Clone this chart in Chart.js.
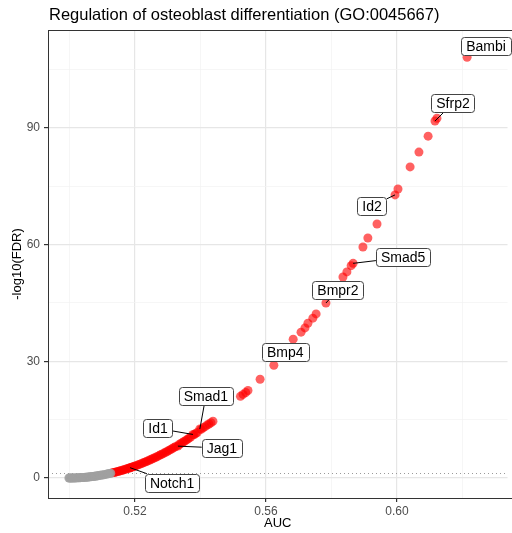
<!DOCTYPE html>
<html>
<head>
<meta charset="utf-8">
<script src="https://cdn.jsdelivr.net/npm/chart.js@4.4.1/dist/chart.umd.min.js"></script>
<style>
  html, body { margin: 0; padding: 0; background: #fff; overflow: hidden; }
  #wrap { width: 512px; height: 533px; }
</style>
</head>
<body>
<div id="wrap"><canvas id="chart" width="512" height="533"></canvas></div>
<script>
// genes not passing the FDR cutoff (grey)
const greyAuc = [0.4998, 0.5000, 0.5003, 0.5006, 0.5009, 0.5012, 0.5015, 0.5018, 0.5021, 0.5024,
  0.5027, 0.5030, 0.5033, 0.5036, 0.5039, 0.5042, 0.5045, 0.5048, 0.5051, 0.5054,
  0.5057, 0.5060, 0.5063, 0.5066, 0.5069, 0.5072, 0.5075, 0.5078, 0.5081, 0.5084,
  0.5087, 0.5090, 0.5094, 0.5098, 0.5102, 0.5106, 0.5110, 0.5114, 0.5118, 0.5122, 0.5126];
const greyFdr = [0.00, 0.00, 0.00, 0.01, 0.01, 0.01, 0.02, 0.02, 0.03, 0.04,
  0.06, 0.07, 0.08, 0.10, 0.12, 0.14, 0.16, 0.18, 0.20, 0.22,
  0.25, 0.28, 0.31, 0.34, 0.37, 0.40, 0.43, 0.47, 0.50, 0.54,
  0.58, 0.62, 0.68, 0.74, 0.80, 0.86, 0.93, 1.00, 1.07, 1.15, 1.22];

// significant genes (red)
const redAuc = [0.5131, 0.5135, 0.5139, 0.5143, 0.5147, 0.5151, 0.5155, 0.5159, 0.5163, 0.5167,
  0.5171, 0.5175, 0.5179, 0.5183, 0.5185, 0.5188, 0.5192, 0.5196, 0.5200, 0.5205,
  0.5210, 0.5215, 0.5220, 0.5225, 0.5230, 0.5235, 0.5240, 0.5245, 0.5250, 0.5255,
  0.5260, 0.5265, 0.5270, 0.5275, 0.5280, 0.5285, 0.5290, 0.5295, 0.5300, 0.5305,
  0.5310, 0.5315, 0.5320, 0.5325, 0.5331, 0.5335, 0.5340, 0.5345, 0.5350, 0.5355,
  0.5360, 0.5365, 0.5370, 0.5377, 0.5380, 0.5385, 0.5390, 0.5398, 0.5402, 0.5408,
  0.5414, 0.5420, 0.5426, 0.5432, 0.5438,
  0.5522, 0.5530, 0.5538, 0.5545, 0.5582, 0.5624, 0.5683, 0.5707, 0.5719, 0.5728,
  0.5743, 0.5753, 0.5783, 0.5835, 0.5847, 0.5860, 0.5866, 0.5896, 0.5911, 0.5939,
  0.5994, 0.6003, 0.6040, 0.6067, 0.6095, 0.6116, 0.6122, 0.6214];
const redFdr = [1.32, 1.40, 1.48, 1.57, 1.66, 1.75, 1.85, 1.94, 2.04, 2.14,
  2.25, 2.36, 2.47, 2.58, 2.65, 2.72, 2.83, 2.96, 3.08, 3.24,
  3.39, 3.56, 3.72, 3.89, 4.07, 4.25, 4.43, 4.62, 4.81, 5.00,
  5.20, 5.41, 5.62, 5.83, 6.03, 6.25, 6.47, 6.70, 6.92, 7.16,
  7.40, 7.64, 7.88, 8.13, 8.20, 8.60, 8.86, 9.13, 9.40, 9.66,
  9.95, 10.24, 10.52, 11.2, 11.1, 11.4, 11.7, 12.6, 12.5, 12.9,
  13.2, 13.6, 13.9, 14.2, 14.6,
  21.0, 21.5, 22.0, 22.5, 25.4, 29.0, 35.7, 37.5, 38.6, 39.8,
  41.1, 42.2, 45.0, 51.7, 53.0, 54.6, 55.2, 59.4, 61.7, 65.3,
  72.8, 74.3, 80.0, 83.8, 87.9, 91.8, 92.5, 108.2];

// labelled genes
const labelGenes = ["Bambi", "Sfrp2", "Id2", "Smad5", "Bmpr2", "Bmp4", "Smad1", "Id1", "Jag1", "Notch1"];
const labelAuc = [0.6214, 0.6116, 0.5994, 0.5866, 0.5783, 0.5683, 0.5398, 0.5377, 0.5331, 0.5185];
const labelFdr = [108.2, 91.8, 72.8, 55.2, 45.0, 35.7, 12.6, 11.2, 8.2, 2.65];

const fdrCutoff = 1.3;

const xTicks = [0.50, 0.52, 0.54, 0.56, 0.58, 0.60, 0.62];
const xTickLabels = ["", "0.52", "", "0.56", "", "0.60", ""];
const yTicks = [0, 15, 30, 45, 60, 75, 90, 105];
const yTickLabels = ["0", "", "30", "", "60", "", "90", ""];

// where each label box sits relative to its point (px)
const labelOffsets = {
  Bambi: [19, -11], Sfrp2: [18, -18], Id2: [-23, 11], Smad5: [50, -6], Bmpr2: [12, -13],
  Bmp4: [-8, 13], Smad1: [6, -33], Id1: [-35, -6], Jag1: [44, 2], Notch1: [42, 15]
};

const FONT = '"Liberation Sans", Arial, Helvetica, sans-serif';

function toPoints(xs, ys) {
  return xs.map((v, i) => ({ x: v, y: ys[i] }));
}

const decorPlugin = {
  id: "decor",
  beforeDatasetsDraw(chart) {
    const { ctx, chartArea: a, scales: { y } } = chart;
    const yy = Math.round(y.getPixelForValue(fdrCutoff)) + 0.5;
    ctx.save();
    ctx.strokeStyle = "#9a9a9a";
    ctx.lineWidth = 1;
    ctx.setLineDash([1, 3]);
    ctx.beginPath();
    ctx.moveTo(a.left, yy);
    ctx.lineTo(a.right, yy);
    ctx.stroke();
    ctx.restore();
  },
  afterDatasetsDraw(chart) {
    const { ctx, chartArea: a, scales: { x, y } } = chart;
    ctx.save();
    // panel border
    ctx.strokeStyle = "#333333";
    ctx.lineWidth = 1;
    ctx.strokeRect(a.left + 0.5, a.top + 0.5, 520, a.bottom - a.top);

    // gene labels
    ctx.font = "14px " + FONT;
    ctx.textAlign = "center";
    ctx.textBaseline = "middle";
    labelGenes.forEach((g, i) => {
      const px = x.getPixelForValue(labelAuc[i]);
      const py = y.getPixelForValue(labelFdr[i]);
      const off = labelOffsets[g];
      const cx = px + off[0], cy = py + off[1];
      const w = ctx.measureText(g).width + 10, h = 18;
      const dx = px - cx, dy = py - cy;
      const s = Math.min(dx ? (w / 2) / Math.abs(dx) : Infinity, dy ? (h / 2) / Math.abs(dy) : Infinity);
      if (s < 1) {
        const ex = cx + dx * s, ey = cy + dy * s;
        if (Math.hypot(px - ex, py - ey) > 5) {
          ctx.strokeStyle = "#000";
          ctx.lineWidth = 1;
          ctx.beginPath();
          ctx.moveTo(px, py);
          ctx.lineTo(ex, ey);
          ctx.stroke();
        }
      }
      const bx = Math.round(cx - w / 2) + 0.5, by = Math.round(cy - h / 2) + 0.5;
      ctx.beginPath();
      ctx.roundRect(bx, by, Math.round(w), h, 3);
      ctx.fillStyle = "#fff";
      ctx.fill();
      ctx.strokeStyle = "#444";
      ctx.stroke();
      ctx.fillStyle = "#000";
      ctx.fillText(g, cx, cy + 1);
    });

    // titles
    ctx.textAlign = "left";
    ctx.textBaseline = "alphabetic";
    ctx.font = "16.5px " + FONT;
    ctx.fillText("Regulation of osteoblast differentiation (GO:0045667)", 49, 20);
    ctx.font = "13px " + FONT;
    ctx.textAlign = "center";
    ctx.fillText("AUC", (a.left + a.right) / 2, 527);
    ctx.translate(21, (a.top + a.bottom) / 2);
    ctx.rotate(-Math.PI / 2);
    ctx.fillText("-log10(FDR)", 0, 0);
    ctx.restore();
  }
};

function gridOpts(labels) {
  return {
    color: c => labels[c.index] ? "#e6e6e6" : "#f2f2f2",
    lineWidth: c => labels[c.index] ? 1.2 : 0.7,
    tickColor: c => labels[c.index] ? "#333333" : "rgba(0,0,0,0)",
    tickLength: 4,
    drawTicks: true
  };
}

const chart = new Chart(document.getElementById("chart"), {
  type: "scatter",
  data: {
    datasets: [
      {
        data: toPoints(greyAuc, greyFdr),
        backgroundColor: "rgba(160,160,160,0.8)",
        borderWidth: 0,
        pointRadius: 4.5
      },
      {
        data: toPoints(redAuc, redFdr),
        backgroundColor: "rgba(255,0,0,0.62)",
        borderWidth: 0,
        pointRadius: 4.5
      }
    ]
  },
  options: {
    responsive: false,
    animation: false,
    devicePixelRatio: 1,
    layout: { padding: { top: 30, left: 0, right: 0, bottom: 0 } },
    plugins: { legend: { display: false }, tooltip: { enabled: false }, title: { display: false } },
    scales: {
      x: {
        type: "linear",
        min: 0.4937,
        max: 0.6354,
        afterBuildTicks: s => { s.ticks = xTicks.map(v => ({ value: v })); },
        afterFit: s => { s.height = 35; },
        ticks: {
          callback: (v, i) => xTickLabels[i],
          autoSkip: false,
          maxRotation: 0,
          padding: 2,
          color: "#4d4d4d",
          font: { family: FONT, size: 12 }
        },
        grid: gridOpts(xTickLabels),
        border: { display: false }
      },
      y: {
        type: "linear",
        min: -5.2,
        max: 115.4,
        afterBuildTicks: s => { s.ticks = yTicks.map(v => ({ value: v })); },
        afterFit: s => { s.width = 48; },
        ticks: {
          callback: (v, i) => yTickLabels[i],
          autoSkip: false,
          padding: 4,
          color: "#4d4d4d",
          font: { family: FONT, size: 12 }
        },
        grid: gridOpts(yTickLabels),
        border: { display: false }
      }
    }
  },
  plugins: [decorPlugin]
});

// fit the axis range to the panel so 0.52 / 0.60 and 0 / 90 land where the original put them
const ca = chart.chartArea;
const xPerUnit = (397 - 135) / 0.08;
const yPerUnit = (478 - 128) / 90;
chart.options.scales.x.min = 0.52 - (135 - ca.left) / xPerUnit;
chart.options.scales.x.max = 0.52 + (ca.right - 135) / xPerUnit;
chart.options.scales.y.min = -(ca.bottom - 478) / yPerUnit;
chart.options.scales.y.max = (478 - ca.top) / yPerUnit;
chart.update();
</script>
</body>
</html>
